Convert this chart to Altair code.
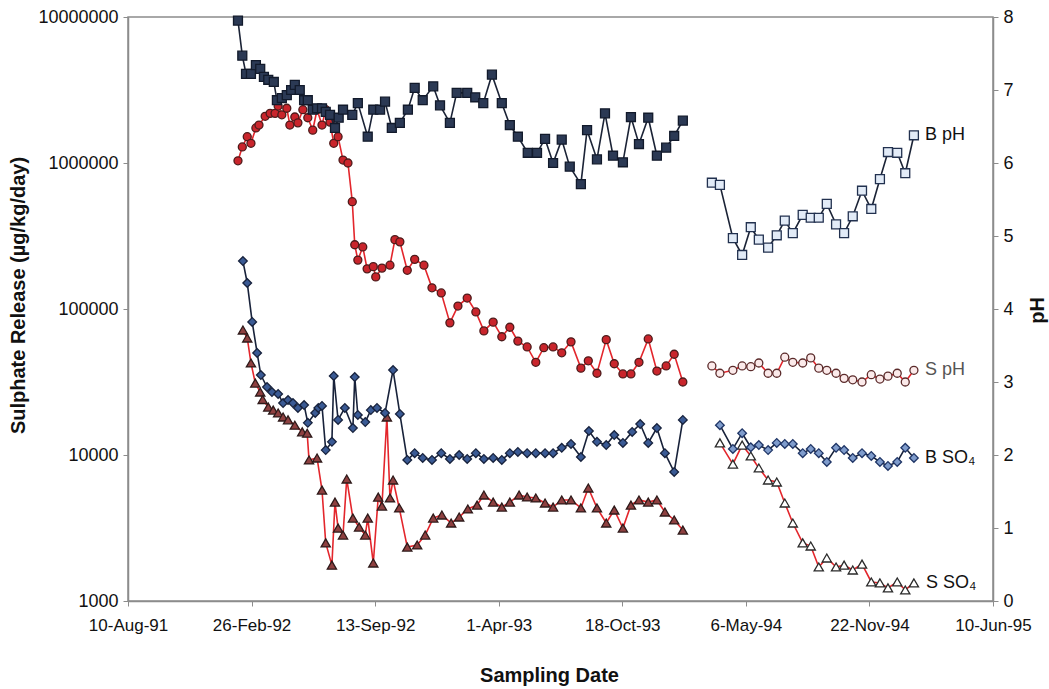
import altair as alt
import pandas as pd

# Sampling days are counted from 10 Aug 1991, the first date on the time axis.
START = pd.Timestamp("1991-08-10")

# ---- pH, first leaching period ----
b_ph_days_1 = [178, 185, 191, 199, 207, 214, 220, 227, 236, 241, 249, 257, 264, 270, 278,
               285, 291, 299, 306, 314, 320, 327, 335, 341, 348, 363, 372, 388, 397, 408,
               416, 427, 440, 453, 464, 477, 494, 505, 521, 532, 549, 562, 575, 589, 605,
               618, 631, 647, 662, 675, 688, 702, 715, 733, 743, 759, 772, 785, 801, 814,
               827, 842, 856, 871, 884, 898]
b_ph_1 = [7.95, 7.47, 7.22, 7.22, 7.34, 7.29, 7.18, 7.14, 7.11, 6.86, 6.89, 6.93, 7.00, 7.07, 7.00,
          6.86, 6.86, 6.73, 6.75, 6.75, 6.70, 6.66, 6.48, 6.62, 6.73, 6.66, 6.82, 6.36, 6.73, 6.73,
          6.84, 6.48, 6.55, 6.73, 7.03, 6.86, 7.05, 6.79, 6.55, 6.96, 6.96, 6.90, 6.82, 7.21, 6.82,
          6.52, 6.36, 6.14, 6.14, 6.33, 6.00, 6.32, 5.95, 5.71, 6.45, 6.05, 6.68, 6.10, 6.01, 6.63,
          6.26, 6.62, 6.10, 6.21, 6.37, 6.58]

s_ph_days_1 = [178, 185, 193, 199, 207, 212, 222, 230, 238, 243, 249, 257, 262, 270, 275,
               283, 291, 299, 306, 314, 320, 327, 333, 340, 348, 356, 363, 367, 372, 380,
               387, 397, 401, 411, 424, 432, 440, 452, 464, 479, 492, 507, 521, 534, 549,
               563, 576, 591, 605, 618, 631, 646, 660, 673, 688, 702, 717, 733, 745, 759,
               774, 787, 801, 814, 827, 842, 856, 871, 884, 898]
s_ph_1 = [6.03, 6.22, 6.36, 6.27, 6.48, 6.52, 6.64, 6.68, 6.68, 6.78, 6.66, 6.75, 6.52, 6.63, 6.55,
          6.73, 6.62, 6.45, 6.73, 6.52, 6.73, 6.56, 6.27, 6.36, 6.04, 6.00, 5.47, 4.88, 4.67, 4.85,
          4.55, 4.58, 4.44, 4.56, 4.60, 4.95, 4.92, 4.53, 4.68, 4.60, 4.29, 4.22, 3.81, 4.04, 4.15,
          3.96, 3.70, 3.82, 3.62, 3.75, 3.56, 3.48, 3.27, 3.47, 3.48, 3.40, 3.55, 3.19, 3.29, 3.12,
          3.58, 3.25, 3.11, 3.11, 3.27, 3.59, 3.15, 3.22, 3.38, 3.00]

# ---- pH, second leaching period ----
ph_days_2 = [945, 958, 979, 994, 1008, 1021, 1036, 1050, 1063, 1076, 1092, 1105,
             1118, 1131, 1146, 1159, 1173, 1188, 1203, 1217, 1230, 1245, 1258, 1272]
b_ph_2 = [5.73, 5.70, 4.97, 4.74, 5.12, 4.95, 4.84, 5.01, 5.21, 5.04, 5.29, 5.25,
          5.25, 5.44, 5.16, 5.04, 5.27, 5.62, 5.37, 5.78, 6.15, 6.14, 5.86, 6.38]
s_ph_2 = [3.22, 3.12, 3.16, 3.22, 3.21, 3.26, 3.12, 3.12, 3.34, 3.27, 3.26, 3.33,
          3.19, 3.16, 3.12, 3.05, 3.03, 3.00, 3.10, 3.04, 3.08, 3.12, 3.00, 3.16]

# ---- sulphate release (ug/kg/day), first leaching period ----
b_so4_days_1 = [186, 193, 201, 209, 215, 225, 233, 243, 251, 259, 267, 275, 285, 291, 303,
                308, 314, 320, 330, 333, 340, 351, 364, 367, 372, 384, 393, 403, 416, 429,
                440, 452, 464, 477, 492, 507, 521, 536, 549, 563, 576, 591, 605, 618, 631,
                646, 660, 675, 688, 702, 717, 733, 746, 759, 774, 787, 801, 816, 829, 842,
                856, 869, 884, 898]
b_so4_1 = [213000, 150700, 81500, 50000, 35300, 29200, 27000, 26200, 22700, 23800, 22700, 21000,
           22000, 16600, 19400, 21000, 21700, 10800, 12300, 34800, 17400, 21000, 15300, 34200,
           18800, 16800, 20300, 21000, 19400, 38200, 19100,
           9250, 10300, 9540, 9250, 10300, 9390, 10000, 9390, 10300, 9390,
           9540, 9250, 10300, 10500, 10300, 10300, 10300, 10300, 11200, 11900,
           9690, 14600, 12300, 11700, 13700, 12100, 14400, 16300, 12100, 15300,
           10300, 7650, 17400]

s_so4_days_1 = [186, 193, 199, 206, 214, 218, 227, 235, 243, 251, 259, 270, 282, 290, 293,
                306, 314, 320, 330, 335, 340, 348, 354, 364, 374, 384, 388, 397, 405, 411,
                419, 424, 429, 439, 452, 468, 481, 494, 508, 523, 536, 550, 565, 576, 591,
                605, 618, 633, 646, 660, 675, 688, 702, 717, 733, 745, 759, 774, 787, 801,
                814, 827, 842, 856, 869, 884, 898]
s_so4_1 = [71800, 63300, 42700, 31100, 27000, 24000, 21300, 20300, 19400, 18200, 17400, 16000,
           14400, 14100, 9250, 9540, 5750, 2500, 1760, 4760, 3160, 2830, 6850, 3700, 3210,
           2830, 3700, 1820, 5150, 4470, 18200, 5080, 6740, 4340,
           2340, 2420, 2830, 3700, 3880, 3420, 3760, 4270, 4540, 5320,
           4760, 4400, 4760, 5320, 5160, 5080, 4690, 4400, 4920, 4920,
           4340, 5940, 4340, 3420, 4200, 3160, 4540, 4920, 4760, 4920,
           4070, 3590, 3060]

# ---- sulphate release, second leaching period ----
so4_days_2 = ph_days_2[1:]
b_so4_2 = [16000, 11000, 14100, 11300, 11700, 10800, 12100, 11900, 11900, 10300, 11000, 10300,
           8960, 11200, 10800, 9540, 10300, 9850, 8960, 8410, 8960, 11200, 9540]
s_so4_2 = [12100, 8670, 11700, 9850, 8150, 6740, 6530, 4690, 3420, 2500, 2380, 1710,
           1970, 1710, 1760, 1630, 1790, 1350, 1330, 1230, 1350, 1190, 1330]

# ---- axes ----
date_ticks = ["1991-08-10", "1992-02-26", "1992-09-13", "1993-04-01",
              "1993-10-18", "1994-05-06", "1994-11-22", "1995-06-10"]
so4_ticks = [1000, 10000, 100000, 1000000, 10000000]
ph_ticks = [0, 1, 2, 3, 4, 5, 6, 7, 8]

FONT = "Liberation Sans"


def to_dates(days):
    return [(START + pd.Timedelta(days=d)).strftime("%Y-%m-%d") for d in days]


def dt(s):
    y, m, d = (int(p) for p in s.split("-"))
    return alt.DateTime(year=y, month=m, date=d, utc=True)


def frame(parts):
    rows = []
    for seg, (days, values) in enumerate(parts, start=1):
        rows.append(pd.DataFrame({"date": to_dates(days), "value": values, "seg": seg}))
    return pd.concat(rows, ignore_index=True)


x_enc = alt.X(
    "date:T",
    scale=alt.Scale(type="utc", domain=[dt(date_ticks[0]), dt(date_ticks[-1])]),
    axis=alt.Axis(
        values=[dt(s) for s in date_ticks],
        labelExpr="utcFormat(datum.value, '%-d-%b-%y')",
        labelOverlap=False, labelBound=False, labelFlush=False,
        labelFontSize=17,
        title="Sampling Date",
        titleX=421, titleY=74, titleBaseline="middle", titleAlign="center",
        labelPadding=11,
    ),
)

so4_y = alt.Y(
    "value:Q",
    scale=alt.Scale(type="log", domain=[so4_ticks[0], so4_ticks[-1]], nice=False),
    axis=alt.Axis(
        values=so4_ticks, format="d",
        labelOverlap=False,
        title="Sulphate Release (µg/kg/day)",
        titleAngle=270, titleX=-110, titleY=278,
        titleAlign="center", titleBaseline="middle",
    ),
)

ph_y = alt.Y(
    "value:Q",
    scale=alt.Scale(domain=[ph_ticks[0], ph_ticks[-1]], nice=False),
    axis=alt.Axis(
        orient="right", values=ph_ticks, format="d",
        labelOverlap=False,
        title="pH",
        titleAngle=270, titleX=44, titleY=293,
        titleAlign="center", titleBaseline="middle",
    ),
)


def series(df, y_enc, line_color, shape, size, fill1, stroke1, fill2, stroke2):
    base = alt.Chart(df).encode(x=x_enc, y=y_enc)
    line = base.mark_line(color=line_color, strokeWidth=1.6).encode(detail="seg:N")
    first = base.transform_filter("datum.seg == 1").mark_point(
        shape=shape, size=size, filled=True, fill=fill1, stroke=stroke1,
        strokeWidth=1.3, opacity=1)
    second = base.transform_filter("datum.seg == 2").mark_point(
        shape=shape, size=size, filled=True, fill=fill2, stroke=stroke2,
        strokeWidth=1.3, opacity=1)
    return [line, first, second]


def end_label(days, values, text, y_enc, color, dx):
    df = pd.DataFrame({"date": to_dates(days[-1:]), "value": values[-1:], "label": [text]})
    return alt.Chart(df).mark_text(
        align="left", baseline="middle", dx=dx, font=FONT, fontSize=18, color=color
    ).encode(x=x_enc, y=y_enc, text="label:N")


b_ph = frame([(b_ph_days_1, b_ph_1), (ph_days_2, b_ph_2)])
s_ph = frame([(s_ph_days_1, s_ph_1), (ph_days_2, s_ph_2)])
b_so4 = frame([(b_so4_days_1, b_so4_1), (so4_days_2, b_so4_2)])
s_so4 = frame([(s_so4_days_1, s_so4_1), (so4_days_2, s_so4_2)])

so4_layers = (
    series(s_so4, so4_y, "#e3262c", "triangle-up", 85, "#8e4040", "#2e1a1a", "#ffffff", "#2a2a2a")
    + series(b_so4, so4_y, "#18223a", "diamond", 75, "#3a5a94", "#17223d", "#7f9ccc", "#1f3566")
    + [
        end_label(so4_days_2, b_so4_2, "B SO₄", so4_y, "#111111", 11),
        end_label(so4_days_2, s_so4_2, "S SO₄", so4_y, "#111111", 12),
    ]
)

ph_layers = (
    series(s_ph, ph_y, "#e3262c", "circle", 64, "#c9252c", "#4d1b1b", "#fbeaea", "#5a2a2a")
    + series(b_ph, ph_y, "#1b2336", "square", 80, "#2b3954", "#121a2b", "#e2ebf7", "#22314f")
    + [
        end_label(ph_days_2, b_ph_2, "B pH", ph_y, "#111111", 11),
        end_label(ph_days_2, s_ph_2, "S pH", ph_y, "#555555", 11),
    ]
)

chart = (
    alt.layer(alt.layer(*so4_layers), alt.layer(*ph_layers))
    .resolve_scale(y="independent")
    .properties(
        width=865,
        height=584,
        autosize=alt.AutoSizeParams(type="none"),
        padding={"left": 128, "top": 17, "right": 56, "bottom": 88},
        background="white",
    )
    .configure_axis(
        labelFont=FONT, titleFont=FONT,
        labelFontSize=18, titleFontSize=20, titleFontWeight="bold",
        labelColor="#111111", titleColor="#111111",
        domainColor="#8c8c8c", domainWidth=1.5,
        tickColor="#8c8c8c", tickSize=5, labelPadding=5,
        grid=False,
    )
    .configure_view(stroke="#8c8c8c", strokeWidth=1.5)
)

chart.save("out.html", embed_options={"renderer": "svg", "actions": False})
